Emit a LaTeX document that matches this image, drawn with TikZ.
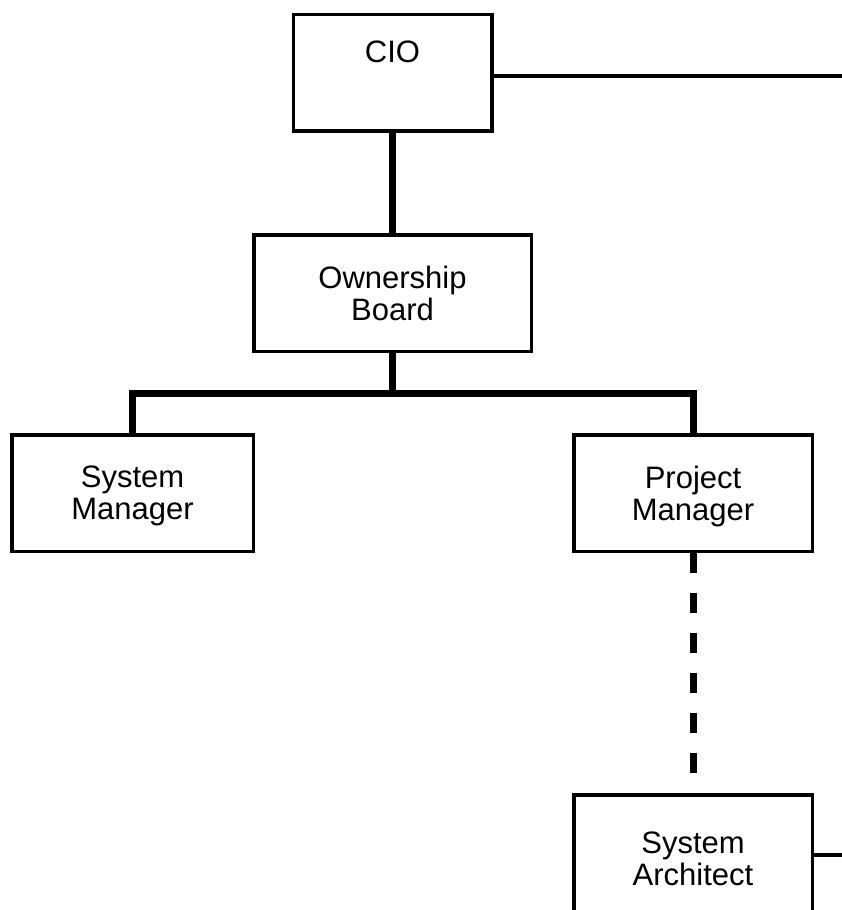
\documentclass[tikz,border=0pt]{standalone}
\usepackage{fontspec}
\setmainfont{Liberation Sans}
\newcommand\zdp[1]{\raisebox{0pt}[\height][0pt]{#1}}
\begin{document}
\begin{tikzpicture}[x=1pt,y=-1pt,
  box/.style={draw=black, line width=3.5pt, fill=white, rectangle,
    minimum width=#1, minimum height=116.5pt, inner sep=0pt, align=center,
    font=\fontsize{31pt}{32pt}\selectfont},
  rule/.style={line width=3.5pt},
  conn/.style={line width=7pt, line join=miter},
  dashconn/.style={line width=7pt, dash pattern=on 20pt off 20pt}
]
\useasboundingbox (0,0) rectangle (842,910);
\clip (0,0) rectangle (842,910);
\fill[white] (0,0) rectangle (842,910);

\coordinate (cioR) at (842,76);
\coordinate (saR) at (842,855);

\node[box=198.5pt, text height=22pt, text depth=42pt] (CIO) at (392.5,72.5) {CIO};
\node[box=277.5pt] (OB) at (392.5,293) {Ownership\\\zdp{Board}};
\node[box=241.5pt] (SM) at (132.5,493) {System\\\zdp{Manager}};
\node[box=238.5pt] (PM) at (693,493) {Project\\\zdp{Manager}};
\node[box=238.5pt, minimum height=127.5pt] (SA) at (693,858.5) {System\\\zdp{Architect}};

\draw[rule] (CIO.east |- cioR) -- (cioR);
\draw[rule] (SA.east |- saR) -- (saR);

\draw[conn] (CIO.south) -- (OB.north);
\draw[conn] (OB.south) -- ++(0,40);
\draw[conn] (SM.north) -- ++(0,-40) -| (PM.north);
\draw[dashconn] (PM.south) -- (SA.north);
\end{tikzpicture}
\end{document}
